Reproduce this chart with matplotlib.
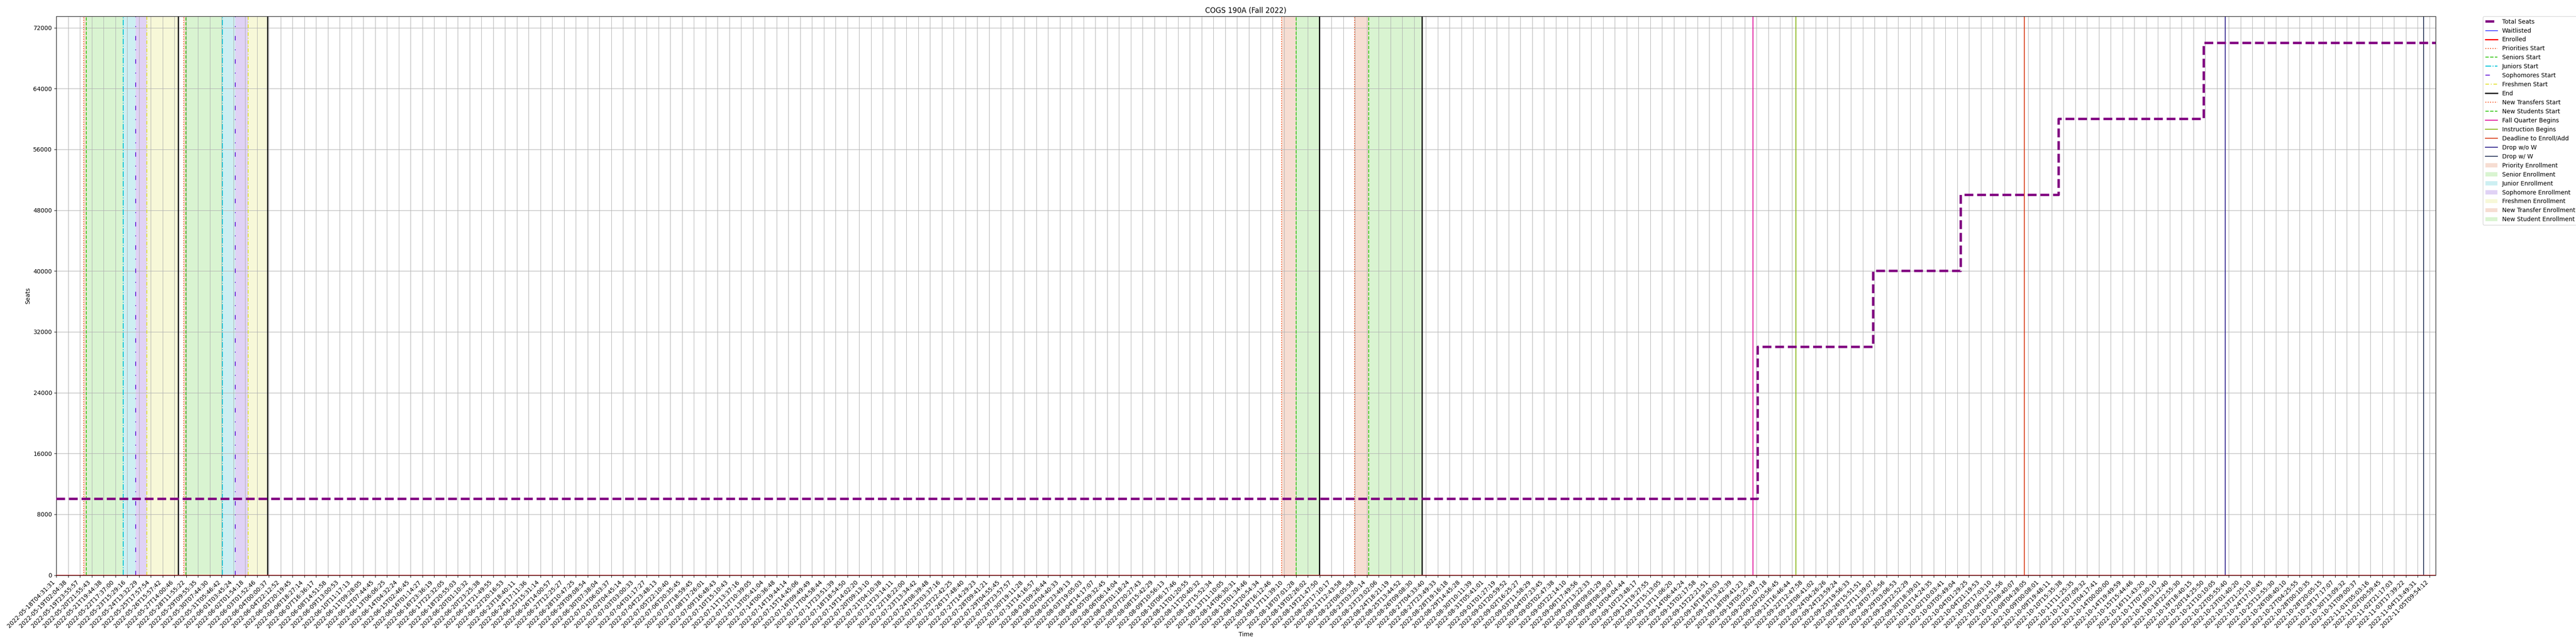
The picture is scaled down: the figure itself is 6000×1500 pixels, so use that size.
import matplotlib
matplotlib.use("Agg")
import matplotlib.pyplot as plt

# ---------------- data ----------------
tick_labels = [
    "2022-05-18T04:31:31", "2022-05-19T02:04:38", "2022-05-19T23:55:57", "2022-05-20T21:55:43",
    "2022-05-21T19:44:38", "2022-05-22T17:37:00", "2022-05-23T15:29:16", "2022-05-24T13:32:29",
    "2022-05-25T17:57:54", "2022-05-26T15:57:42", "2022-05-27T14:00:46", "2022-05-28T11:55:22",
    "2022-05-29T09:55:35", "2022-05-30T07:44:30", "2022-05-31T05:46:42", "2022-06-01T03:45:24",
    "2022-06-02T01:54:18", "2022-06-03T01:52:46", "2022-06-04T00:00:37", "2022-06-04T22:12:52",
    "2022-06-05T20:19:45", "2022-06-06T18:27:14", "2022-06-07T16:36:17", "2022-06-08T14:51:58",
    "2022-06-09T13:00:53", "2022-06-10T11:17:13", "2022-06-11T09:28:05", "2022-06-12T07:44:45",
    "2022-06-13T06:06:25", "2022-06-14T04:32:24", "2022-06-15T02:46:45", "2022-06-16T01:14:27",
    "2022-06-16T23:36:19", "2022-06-17T22:32:05", "2022-06-18T20:55:03", "2022-06-20T01:10:32",
    "2022-06-20T23:25:38", "2022-06-21T21:49:55", "2022-06-22T20:16:53", "2022-06-23T18:40:11",
    "2022-06-24T17:11:36", "2022-06-25T15:31:14", "2022-06-26T14:00:57", "2022-06-27T12:25:27",
    "2022-06-28T10:47:25", "2022-06-29T09:08:54", "2022-06-30T07:38:04", "2022-07-01T06:03:37",
    "2022-07-02T04:45:14", "2022-07-03T03:00:33", "2022-07-04T01:17:27", "2022-07-04T23:48:13",
    "2022-07-05T22:10:40", "2022-07-06T20:35:45", "2022-07-07T18:59:45", "2022-07-08T17:26:01",
    "2022-07-09T16:48:43", "2022-07-10T15:10:43", "2022-07-11T13:37:16", "2022-07-12T10:39:05",
    "2022-07-13T05:41:04", "2022-07-14T00:36:48", "2022-07-14T19:44:14", "2022-07-15T14:45:06",
    "2022-07-16T09:49:49", "2022-07-17T04:58:44", "2022-07-17T23:51:39", "2022-07-18T18:54:50",
    "2022-07-19T14:02:20", "2022-07-20T09:13:10", "2022-07-21T04:10:38", "2022-07-21T23:14:11",
    "2022-07-22T18:22:00", "2022-07-23T13:34:42", "2022-07-24T08:39:48", "2022-07-25T03:37:16",
    "2022-07-25T22:42:25", "2022-07-26T17:48:40", "2022-07-27T14:29:23", "2022-07-28T09:41:21",
    "2022-07-29T04:55:45", "2022-07-29T23:57:57", "2022-07-30T19:11:28", "2022-07-31T14:16:57",
    "2022-08-01T09:26:44", "2022-08-02T04:40:33", "2022-08-02T23:49:13", "2022-08-03T19:05:03",
    "2022-08-04T14:17:07", "2022-08-05T09:32:45", "2022-08-06T06:14:04", "2022-08-07T01:18:24",
    "2022-08-07T20:27:43", "2022-08-08T15:42:29", "2022-08-09T10:56:13", "2022-08-10T06:17:46",
    "2022-08-11T01:20:55", "2022-08-11T20:40:32", "2022-08-12T15:52:34", "2022-08-13T11:10:05",
    "2022-08-14T06:30:31", "2022-08-15T01:34:46", "2022-08-15T20:54:34", "2022-08-16T16:12:46",
    "2022-08-17T11:39:10", "2022-08-18T07:01:28", "2022-08-19T02:26:02", "2022-08-19T21:47:50",
    "2022-08-20T17:10:17", "2022-08-21T12:43:58", "2022-08-22T08:05:58", "2022-08-23T03:20:14",
    "2022-08-23T23:02:06", "2022-08-24T18:21:19", "2022-08-25T13:44:52", "2022-08-26T09:08:30",
    "2022-08-27T04:33:40", "2022-08-27T23:49:33", "2022-08-28T19:16:18", "2022-08-29T14:45:28",
    "2022-08-30T10:11:39", "2022-08-31T05:41:01", "2022-09-01T01:27:19", "2022-09-01T20:59:52",
    "2022-09-02T16:25:27", "2022-09-03T11:58:29", "2022-09-04T07:23:45", "2022-09-05T02:47:38",
    "2022-09-05T22:14:10", "2022-09-06T17:49:56", "2022-09-07T13:22:33", "2022-09-08T09:01:29",
    "2022-09-09T08:29:07", "2022-09-10T04:04:44", "2022-09-10T23:48:17", "2022-09-11T19:27:55",
    "2022-09-12T15:13:05", "2022-09-13T11:06:20", "2022-09-14T06:44:24", "2022-09-15T02:17:58",
    "2022-09-15T22:21:51", "2022-09-16T18:03:03", "2022-09-17T13:42:39", "2022-09-18T09:41:23",
    "2022-09-19T05:25:49", "2022-09-20T01:07:18", "2022-09-20T20:56:45", "2022-09-21T16:46:44",
    "2022-09-22T12:47:58", "2022-09-23T08:41:02", "2022-09-24T04:26:26", "2022-09-24T23:59:24",
    "2022-09-25T19:56:33", "2022-09-26T15:51:51", "2022-09-27T11:39:07", "2022-09-28T07:26:56",
    "2022-09-29T03:06:53", "2022-09-29T22:52:29", "2022-09-30T18:39:01", "2022-10-01T14:24:35",
    "2022-10-02T10:03:41", "2022-10-03T05:49:04", "2022-10-04T01:29:25", "2022-10-04T21:19:53",
    "2022-10-05T17:03:10", "2022-10-06T12:51:56", "2022-10-07T08:40:07", "2022-10-08T04:28:05",
    "2022-10-09T00:08:01", "2022-10-09T19:48:11", "2022-10-10T15:35:38", "2022-10-11T11:25:35",
    "2022-10-12T07:09:32", "2022-10-13T04:17:41", "2022-10-14T00:00:00", "2022-10-14T19:49:59",
    "2022-10-15T15:44:46", "2022-10-16T11:43:20", "2022-10-17T07:30:10", "2022-10-18T03:12:40",
    "2022-10-18T22:55:30", "2022-10-19T18:40:15", "2022-10-20T14:25:50", "2022-10-21T10:10:05",
    "2022-10-22T05:55:40", "2022-10-23T01:40:20", "2022-10-23T21:25:10", "2022-10-24T17:10:45",
    "2022-10-25T12:55:30", "2022-10-26T08:40:10", "2022-10-27T04:25:55", "2022-10-28T00:10:35",
    "2022-10-28T20:05:15", "2022-10-29T17:17:07", "2022-10-30T13:09:32", "2022-10-31T09:00:37",
    "2022-11-01T05:03:16", "2022-11-02T00:59:45", "2022-11-02T21:17:03", "2022-11-03T17:39:22",
    "2022-11-04T13:49:31", "2022-11-05T09:54:12",
]

x_end = 201.5                       # last sample position (tick-index units)

# Total seats as a step series (position of each change, new value)
seat_change_x = [0.0, 144.1, 153.9, 161.3, 169.6, 181.9]
seat_values   = [10000, 30000, 40000, 50000, 60000, 70000]
enrolled_value = 0
waitlisted_value = 0

# Enrollment passes (first pass, second pass) in tick-index units
priorities_start = [2.33, 10.80]
seniors_start    = [2.53, 10.98]
juniors_start    = [5.66, 14.07]
sophomores_start = [6.74, 15.17]
freshmen_start   = [7.68, 16.26]
pass_end         = [10.32, 17.89]

new_transfers_start = [103.76, 109.95]
new_students_start  = [105.0, 111.17]
new_end             = [106.99, 115.65]

fall_quarter_begins = 143.71
instruction_begins  = 147.35
deadline_enroll_add = 166.67
drop_without_w      = 183.7
drop_with_w         = 200.5

y_ticks = [0, 8000, 16000, 24000, 32000, 40000, 48000, 56000, 64000, 72000]

# ---------------- styles ----------------
C_PRI = "#f4511e"
C_SEN = "#3cc81e"
C_JUN = "#00c3d6"
C_SOP = "#6a1fd8"
C_FRE = "#e2e034"
S_PRI = "#f6ddd2"
S_SEN = "#d9f4d1"
S_JUN = "#cdeff2"
S_SOP = "#e0d2f5"
S_FRE = "#f7f8d8"

fig = plt.figure(figsize=(60, 15), dpi=100)
ax = fig.add_axes([131 / 6000, 1 - 1339.5 / 1500, (5672.5 - 131) / 6000, (1339.5 - 38) / 1500])

# total seats
sx = seat_change_x + [x_end]
sy = seat_values + [seat_values[-1]]
ax.step(sx, sy, where="post", color="purple", lw=4, ls="--", label="Total Seats", zorder=5)
ax.plot([0, x_end], [waitlisted_value, waitlisted_value], color="blue", lw=1, label="Waitlisted", zorder=4)
ax.plot([0, x_end], [enrolled_value, enrolled_value], color="red", lw=2, label="Enrolled", zorder=4)

lw_ev = 1.5
for i in range(2):
    lab = (lambda s: s) if i == 0 else (lambda s: "_" + s)
    ax.axvline(priorities_start[i], color=C_PRI, ls=":", lw=lw_ev, label=lab("Priorities Start"))
    ax.axvline(seniors_start[i], color=C_SEN, ls="--", lw=lw_ev, label=lab("Seniors Start"))
    ax.axvline(juniors_start[i], color=C_JUN, ls="-.", lw=lw_ev, label=lab("Juniors Start"))
    ax.axvline(sophomores_start[i], color=C_SOP, ls=(0, (5, 10, 1, 10)), lw=lw_ev, label=lab("Sophomores Start"))
    ax.axvline(freshmen_start[i], color=C_FRE, ls=(0, (4, 2, 1, 2)), lw=lw_ev, label=lab("Freshmen Start"))
    ax.axvline(pass_end[i], color="black", ls="-", lw=2, label=lab("End"))
for i in range(2):
    lab = (lambda s: s) if i == 0 else (lambda s: "_" + s)
    ax.axvline(new_transfers_start[i], color=C_PRI, ls=":", lw=lw_ev, label=lab("New Transfers Start"))
    ax.axvline(new_students_start[i], color=C_SEN, ls="--", lw=lw_ev, label=lab("New Students Start"))
    ax.axvline(new_end[i], color="black", ls="-", lw=2, label="_End")

ax.axvline(fall_quarter_begins, color="#e0139c", lw=1.5, label="Fall Quarter Begins")
ax.axvline(instruction_begins, color="#8ab81a", lw=1.5, label="Instruction Begins")
ax.axvline(deadline_enroll_add, color="#d9421e", lw=1.5, label="Deadline to Enroll/Add")
ax.axvline(drop_without_w, color="#33288f", lw=1.5, label="Drop w/o W")
ax.axvline(drop_with_w, color="#2e3b5e", lw=1.5, label="Drop w/ W")

for i in range(2):
    lab = (lambda s: s) if i == 0 else (lambda s: "_" + s)
    ax.axvspan(priorities_start[i], seniors_start[i], color=S_PRI, lw=0, label=lab("Priority Enrollment"))
    ax.axvspan(seniors_start[i], juniors_start[i], color=S_SEN, lw=0, label=lab("Senior Enrollment"))
    ax.axvspan(juniors_start[i], sophomores_start[i], color=S_JUN, lw=0, label=lab("Junior Enrollment"))
    ax.axvspan(sophomores_start[i], freshmen_start[i], color=S_SOP, lw=0, label=lab("Sophomore Enrollment"))
    ax.axvspan(freshmen_start[i], pass_end[i], color=S_FRE, lw=0, label=lab("Freshmen Enrollment"))
for i in range(2):
    lab = (lambda s: s) if i == 0 else (lambda s: "_" + s)
    ax.axvspan(new_transfers_start[i], new_students_start[i], color=S_PRI, lw=0, label=lab("New Transfer Enrollment"))
    ax.axvspan(new_students_start[i], new_end[i], color=S_SEN, lw=0, label=lab("New Student Enrollment"))

ax.set_xlim(0, x_end)
ax.set_ylim(0, 73500)
ax.set_xticks(range(len(tick_labels)))
ax.set_xticklabels(tick_labels, rotation=45, ha="right")
ax.set_yticks(y_ticks)
ax.grid(True)
ax.set_title("COGS 190A (Fall 2022)")
ax.set_xlabel("Time")
ax.set_ylabel("Seats")
ax.legend(bbox_to_anchor=(1.02, 1), loc="upper left", borderaxespad=0.)

fig.savefig("out.png", dpi=100)
